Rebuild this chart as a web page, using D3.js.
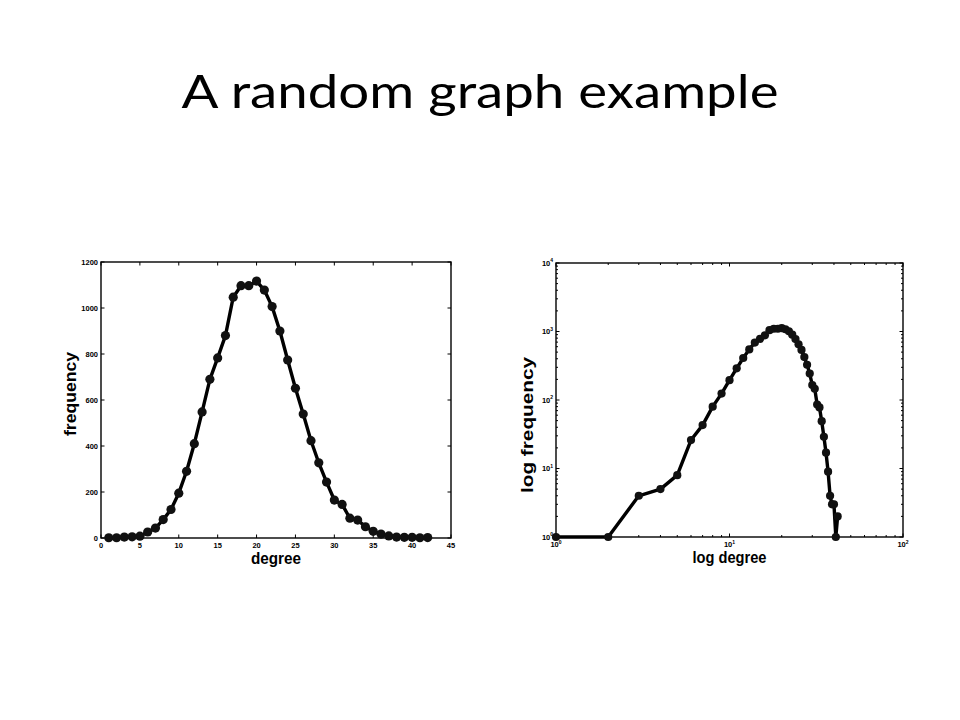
<!DOCTYPE html>
<html>
<head>
<meta charset="utf-8">
<script src="https://cdn.jsdelivr.net/npm/d3@7/dist/d3.min.js"></script>
<style>
  html, body { margin: 0; padding: 0; background: #fff; }
  svg { display: block; }
</style>
</head>
<body>
<svg id="chart" width="960" height="720"></svg>
<script>
// ---- data ----
const degrees = [1,2,3,4,5,6,7,8,9,10,11,12,13,14,15,16,17,18,19,20,21,
                 22,23,24,25,26,27,28,29,30,31,32,33,34,35,36,37,38,39,40,41,42];
const frequency = [1,1,4,5,8,26,43,80,124,195,290,410,548,690,783,880,1047,1097,1097,1117,1078,
                   1006,900,774,651,539,423,327,243,165,146,86,78,49,29,17,9,4,3,3,1,2];
const linXTicks = [0,5,10,15,20,25,30,35,40,45];
const linYTicks = [0,200,400,600,800,1000,1200];
const logXTicks = [1,10,100];
const logYTicks = [1,10,100,1000,10000];

const titleText = "A random graph example";
const leftXLabel = "degree", leftYLabel = "frequency";
const rightXLabel = "log degree", rightYLabel = "log frequency";

const points = degrees.map((d, i) => ({ d: d, f: frequency[i] }));

const svg = d3.select("#chart");

svg.append("text")
  .attr("x", 480).attr("y", 108)
  .attr("text-anchor", "middle")
  .attr("font-family", "Lato, 'Open Sans', sans-serif")
  .attr("font-size", 46)
  .attr("fill", "#000")
  .attr("textLength", 597).attr("lengthAdjust", "spacingAndGlyphs")
  .text(titleText);

const tickFont = "Liberation Sans, Arial, sans-serif";

function drawPanel(cfg) {
  const g = svg.append("g");
  const x = cfg.x, y = cfg.y;
  const [x0, x1] = x.range(), [y0, y1] = y.range(); // y0 bottom, y1 top

  // frame
  g.append("rect").attr("x", x0).attr("y", y1)
    .attr("width", x1 - x0).attr("height", y0 - y1)
    .attr("fill", "none").attr("stroke", "#000").attr("stroke-width", 1.4);

  // inward ticks on all four sides
  const xt = cfg.xTicksAll, yt = cfg.yTicksAll;
  xt.forEach(t => {
    const px = x(t.v), len = t.major ? 3.5 : 2;
    g.append("line").attr("x1", px).attr("x2", px).attr("y1", y0).attr("y2", y0 - len)
      .attr("stroke", "#000").attr("stroke-width", 1);
    g.append("line").attr("x1", px).attr("x2", px).attr("y1", y1).attr("y2", y1 + len)
      .attr("stroke", "#000").attr("stroke-width", 1);
  });
  yt.forEach(t => {
    const py = y(t.v), len = t.major ? 3.5 : 2;
    g.append("line").attr("x1", x0).attr("x2", x0 + len).attr("y1", py).attr("y2", py)
      .attr("stroke", "#000").attr("stroke-width", 1);
    g.append("line").attr("x1", x1).attr("x2", x1 - len).attr("y1", py).attr("y2", py)
      .attr("stroke", "#000").attr("stroke-width", 1);
  });

  // tick labels
  cfg.xLabels.forEach(v => {
    const t = g.append("text").attr("x", x(v)).attr("y", y0 + 10)
      .attr("text-anchor", "middle").attr("font-family", tickFont)
      .attr("font-size", 7.5).attr("font-weight", "bold");
    cfg.fmt(t, v);
  });
  cfg.yLabels.forEach(v => {
    const t = g.append("text").attr("x", x0 - 3).attr("y", y(v) + 2.5)
      .attr("text-anchor", "end").attr("font-family", tickFont)
      .attr("font-size", 7.5).attr("font-weight", "bold");
    cfg.fmt(t, v);
  });

  // data line + markers
  const line = d3.line().x(p => x(p.d)).y(p => y(p.f));
  g.append("path").datum(cfg.data).attr("d", line)
    .attr("fill", "none").attr("stroke", "#000").attr("stroke-width", 3.4)
    .attr("stroke-linejoin", "round");
  g.selectAll("circle.m").data(cfg.data).enter().append("circle")
    .attr("cx", p => x(p.d)).attr("cy", p => y(p.f)).attr("r", cfg.r)
    .attr("fill", "#111");

  // axis labels
  g.append("text").attr("x", (x0 + x1) / 2).attr("y", y0 + 26)
    .attr("text-anchor", "middle").attr("font-family", "Liberation Sans, Arial, sans-serif")
    .attr("font-size", 16).attr("font-weight", "bold")
    .attr("textLength", cfg.xLabLen).attr("lengthAdjust", "spacingAndGlyphs")
    .text(cfg.xLab);
  g.append("text")
    .attr("transform", `translate(${cfg.yLabX},${cfg.yLabY}) rotate(-90)`)
    .attr("text-anchor", "middle").attr("font-family", "Liberation Sans, Arial, sans-serif")
    .attr("font-size", 16).attr("font-weight", "bold")
    .attr("textLength", cfg.yLabLen).attr("lengthAdjust", "spacingAndGlyphs")
    .text(cfg.yLab);
}

// left, linear
const xL = d3.scaleLinear().domain([0, 45]).range([101, 451]);
const yL = d3.scaleLinear().domain([0, 1200]).range([538, 262]);
drawPanel({
  x: xL, y: yL, data: points, r: 4.6,
  xTicksAll: linXTicks.map(v => ({ v, major: true })),
  yTicksAll: linYTicks.map(v => ({ v, major: true })),
  xLabels: linXTicks, yLabels: linYTicks,
  fmt: (t, v) => t.text(v),
  xLab: leftXLabel, xLabLen: 50,
  yLab: leftYLabel, yLabX: 76, yLabY: 394, yLabLen: 84
});

// right, log-log
const xR = d3.scaleLog().domain([1, 100]).range([556, 903]);
const yR = d3.scaleLog().domain([1, 10000]).range([537, 263]);
const minorX = [], minorY = [];
logXTicks.slice(0, -1).forEach(b => { for (const m of [2,3,4,5,6,7,8,9]) minorX.push({ v: b * m, major: false }); });
logYTicks.slice(0, -1).forEach(b => { for (const m of [2,3,4,5,6,7,8,9]) minorY.push({ v: b * m, major: false }); });
drawPanel({
  x: xR, y: yR, data: points, r: 4.1,
  xTicksAll: logXTicks.map(v => ({ v, major: true })).concat(minorX),
  yTicksAll: logYTicks.map(v => ({ v, major: true })).concat(minorY),
  xLabels: logXTicks, yLabels: logYTicks,
  fmt: (t, v) => {
    t.append("tspan").text("10");
    t.append("tspan").attr("font-size", 5).attr("dy", -3.5).text(Math.round(Math.log10(v)));
  },
  xLab: rightXLabel, xLabLen: 74,
  yLab: rightYLabel, yLabX: 533, yLabY: 425, yLabLen: 136
});
</script>
</body>
</html>
